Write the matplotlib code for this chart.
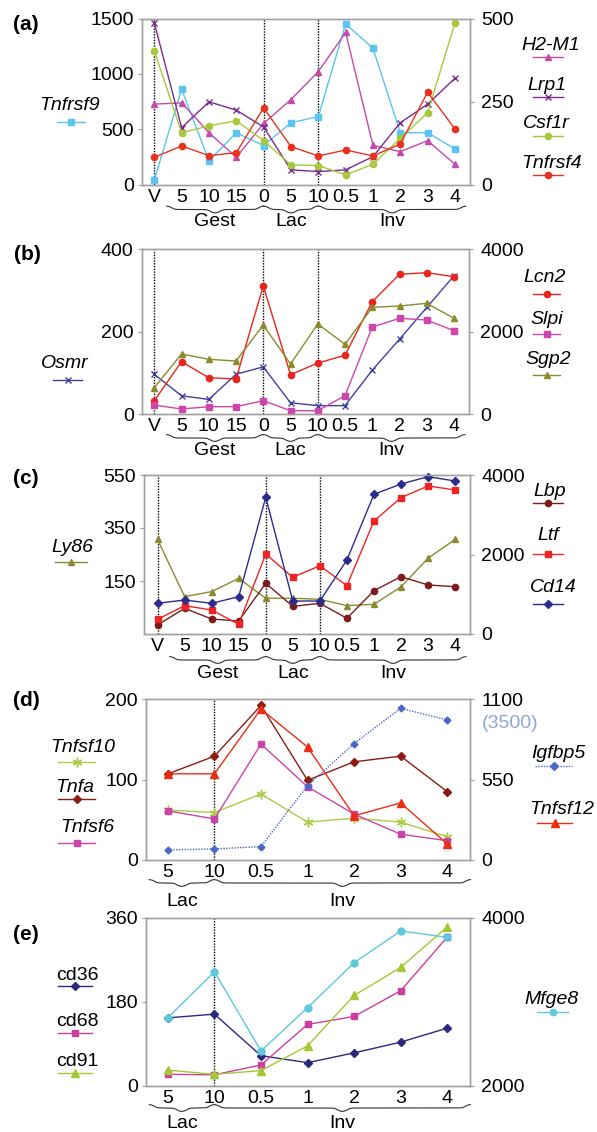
import numpy as np
import matplotlib
matplotlib.use("Agg")
import matplotlib.pyplot as plt
from matplotlib.lines import Line2D
from matplotlib import transforms

plt.rcParams["font.family"] = ["Liberation Sans", "DejaVu Sans"]

W, H = 597, 1132

# ── Data ──────────────────────────────────────────────────────────────────
labels_long = ["V", "5", "10", "15", "0", "5", "10", "0.5", "1", "2", "3", "4"]
labels_short = ["5", "10", "0.5", "1", "2", "3", "4"]

# (a)  left: Tnfrsf9 (0-1500), right: others (0-500)
tnfrsf9 = [41, 860, 215, 468, 352, 559, 613, 1451, 1231, 468, 468, 321]
h2m1 = [242, 246, 156, 82, 184, 256, 340, 458, 118, 99, 132, 61]
lrp1 = [487, 171, 249, 224, 173, 44, 39, 44, 84, 186, 242, 320]
csf1r = [403, 156, 177, 192, 132, 59, 57, 29, 61, 139, 216, 487]
tnfrsf4 = [82, 116, 87, 96, 231, 114, 86, 104, 86, 122, 278, 167]

# (b)  left: Osmr (0-400), right: others (0-4000)
osmr = [97, 45, 36, 97, 115, 28, 21, 21, 107, 182, 259, 336]
lcn2 = [330, 1275, 887, 856, 3110, 960, 1243, 1430, 2730, 3394, 3433, 3336]
slpi = [225, 128, 185, 185, 330, 87, 87, 450, 2116, 2327, 2286, 2027]
sgp2 = [645, 1462, 1333, 1292, 2165, 1219, 2189, 1697, 2594, 2625, 2691, 2327]

# (c)  left: Ly86 (-50-550), right: others (0-4000)
ly86 = [307, 91, 110, 160, 85, 85, 81, 57, 62, 128, 236, 307]
lbp = [226, 646, 377, 327, 1276, 695, 772, 395, 1089, 1442, 1233, 1190]
ltf = [370, 712, 604, 244, 2013, 1426, 1718, 1215, 2843, 3430, 3724, 3623]
cd14 = [772, 855, 772, 939, 3439, 830, 830, 1862, 3515, 3774, 3958, 3849]

# (d)  left: Tnfsf10, Tnfa, Tnfsf6 (0-200); right: Tnfsf12 (0-1100), Igfbp5 (0-3500)
tnfsf10 = [62, 59, 82, 47, 52, 47, 29]
tnfa = [107, 129, 192, 99, 122, 129, 85]
tnfsf6 = [61, 51, 144, 91, 57, 32, 24]
tnfsf12 = [589, 589, 1031, 772, 302, 390, 110]
igfbp5 = [219, 241, 291, 1619, 2531, 3297, 3048]

# (e)  left: cd36, cd68, cd91 (0-360); right: Mfge8 (2000-4000)
cd36 = [146, 154, 65, 50, 71, 94, 124]
cd68 = [25, 24, 45, 132, 149, 204, 319]
cd91 = [34, 25, 33, 86, 194, 254, 341]
mfge8 = [2813, 3360, 2417, 2932, 3467, 3845, 3770]

SPINE = "#a0a0a0"
FS = 14

fig = plt.figure(figsize=(W / 100, H / 100), dpi=100)


def add_ax(l, t, r, b):
    return fig.add_axes([l / W, 1 - b / H, (r - l) / W, (b - t) / H])


def style_axes(ax, ax2):
    for a in (ax, ax2):
        for sp in a.spines.values():
            sp.set_color(SPINE)
            sp.set_linewidth(1.0)
    ax.tick_params(axis="x", length=0, pad=3, labelsize=FS)
    ax.tick_params(axis="y", length=3, width=0.8, color=SPINE, pad=3, labelsize=FS)
    ax2.tick_params(axis="y", length=3, width=0.8, color=SPINE, pad=5, labelsize=FS)


def series(ax, vals, color, marker, ms=4.5, ls="-"):
    ax.plot(range(len(vals)), vals, color=color, marker=marker, ms=ms, lw=1.0,
            ls=ls, mec=color, mfc=color, mew=1.0, clip_on=False)


def vline(ax, x):
    ax.axvline(x, color="black", ls=(0, (1, 1)), lw=1.0, zorder=0)


def legend_item(xc, y_text, y_line, x0, x1, label, color, marker, ms=4.5,
                ls="-", italic=True):
    fig.text(xc / W, 1 - y_text / H, label, ha="center", va="center",
             fontsize=FS, style="italic" if italic else "normal")
    xm = (x0 + x1) / 2
    fig.add_artist(Line2D([x0 / W, xm / W, x1 / W], [1 - y_line / H] * 3,
                          transform=fig.transFigure, color=color, lw=1.0, ls=ls,
                          marker=marker, ms=ms, mfc=color, mec=color,
                          markevery=[1]))


def brace(ax, x0, x1, ypx, label, label_y, ppu):
    trans = transforms.blended_transform_factory(ax.transData, fig.transFigure)
    xs = np.linspace(x0, x1, 600)
    xm = (x0 + x1) / 2
    s = 1.5 / ppu
    c = 5.0 / ppu
    u = np.minimum(xs - x0, x1 - xs)
    v = np.abs(xs - xm)
    d = 1 / (1 + np.exp(-(u - c) / s)) + 1 / (1 + np.exp(-(c - v) / s))
    y = ypx - 3.5 + 3.5 * d
    ax.plot(xs, 1 - y / H, transform=trans, color="#333333", lw=0.8,
            clip_on=False)
    ax.text(xm, 1 - label_y / H, label, transform=trans, ha="center",
            va="center", fontsize=FS)


def panel_label(x, y, s):
    fig.text(x / W, 1 - y / H, s, ha="center", va="center", fontsize=15,
             fontweight="bold")


# ── Panel (a) ─────────────────────────────────────────────────────────────
XL = (-0.45, 11.55)
ax = add_ax(142, 18.5, 470, 184.5)
ax2 = ax.twinx()
style_axes(ax, ax2)
ax.set_xlim(*XL)
ax.set_ylim(0, 1500)
ax.set_yticks([0, 500, 1000, 1500])
ax2.set_ylim(0, 500)
ax2.set_yticks([0, 250, 500])
ax.set_xticks(range(12), labels_long)
for xv in (0, 4, 6):
    vline(ax, xv)
series(ax, tnfrsf9, "#5bc4ef", "s", 4.5)
series(ax2, h2m1, "#c24aa8", "^", 5)
series(ax2, lrp1, "#7b2c8c", "x", 5)
series(ax2, csf1r, "#a8c83c", "o", 4.5)
series(ax2, tnfrsf4, "#e8321e", "o", 4.5)
ppu = (470 - 142) / (XL[1] - XL[0])
brace(ax, 0.45, 4, 209.5, "Gest", 221, ppu)
brace(ax, 4, 6, 209.5, "Lac", 221, ppu)
brace(ax, 6, 11.4, 209.5, "Inv", 221, ppu)
panel_label(26, 25, "(a)")
legend_item(70, 106, 122, 57, 85, "Tnfrsf9", "#5bc4ef", "s")
legend_item(551, 45, 57, 533, 563, "H2-M1", "#c24aa8", "^", 5)
legend_item(547, 85, 97, 533, 563, "Lrp1", "#7b2c8c", "x", 5)
legend_item(546, 123, 136, 533, 563, "Csf1r", "#a8c83c", "o")
legend_item(552, 163, 175, 533, 563, "Tnfrsf4", "#e8321e", "o")

# ── Panel (b) ─────────────────────────────────────────────────────────────
ax = add_ax(142, 249.3, 469, 414.3)
ax2 = ax.twinx()
style_axes(ax, ax2)
ax.set_xlim(*XL)
ax.set_ylim(0, 400)
ax.set_yticks([0, 200, 400])
ax2.set_ylim(0, 4000)
ax2.set_yticks([0, 2000, 4000])
ax.set_xticks(range(12), labels_long)
for xv in (0, 4, 6):
    vline(ax, xv)
series(ax, osmr, "#40409e", "x", 5)
series(ax2, lcn2, "#e8241c", "o", 4.5)
series(ax2, slpi, "#cc46ac", "s", 4.5)
series(ax2, sgp2, "#8c8a2c", "^", 5)
ppu = (469 - 142) / (XL[1] - XL[0])
brace(ax, 0.45, 4, 438, "Gest", 451, ppu)
brace(ax, 4, 6, 438, "Lac", 451, ppu)
brace(ax, 6, 11.4, 438, "Inv", 451, ppu)
panel_label(27, 255, "(b)")
legend_item(65, 363, 380, 53, 82, "Osmr", "#40409e", "x", 5)
legend_item(545, 278, 294, 533, 560, "Lcn2", "#e8241c", "o")
legend_item(547, 319, 334, 533, 560, "Slpi", "#cc46ac", "s")
legend_item(548, 360, 375, 533, 560, "Sgp2", "#8c8a2c", "^", 5)

# ── Panel (c) ─────────────────────────────────────────────────────────────
ax = add_ax(144, 475, 470, 634)
ax2 = ax.twinx()
style_axes(ax, ax2)
ax.set_xlim(-0.5, 11.55)
ax.set_ylim(-50, 550)
ax.set_yticks([150, 350, 550])
ax2.set_ylim(0, 4000)
ax2.set_yticks([0, 2000, 4000])
ax.set_xticks(range(12), labels_long)
for xv in (0, 4, 6):
    vline(ax, xv)
series(ax, ly86, "#8c8a30", "^", 5)
series(ax2, lbp, "#7c1c1c", "o", 4.5)
series(ax2, ltf, "#ee2424", "s", 5)
series(ax2, cd14, "#2c2c8c", "D", 4)
ppu = (470 - 144) / (11.55 + 0.5)
brace(ax, 0.45, 4, 660, "Gest", 673, ppu)
brace(ax, 4, 6, 660, "Lac", 673, ppu)
brace(ax, 6, 11.4, 660, "Inv", 673, ppu)
panel_label(26, 478, "(c)")
legend_item(72, 547, 562, 55, 87, "Ly86", "#8c8a30", "^", 5)
legend_item(550, 492, 503, 533, 563, "Lbp", "#7c1c1c", "o")
legend_item(548, 535, 554, 533, 563, "Ltf", "#ee2424", "s", 5)
legend_item(553, 588, 604, 533, 563, "Cd14", "#2c2c8c", "D", 4)

# ── Panel (d) ─────────────────────────────────────────────────────────────
XS = (-0.47, 6.49)
ax = add_ax(146, 699, 470, 860)
ax2 = ax.twinx()
ax3 = ax.twinx()
ax3.set_axis_off()
style_axes(ax, ax2)
ax.set_xlim(*XS)
ax.set_ylim(0, 200)
ax.set_yticks([0, 100, 200])
ax2.set_ylim(0, 1100)
ax2.set_yticks([0, 550, 1100])
ax3.set_ylim(0, 3500)
ax.set_xticks(range(7), labels_short)
vline(ax, 1)
series(ax3, igfbp5, "#4a68c8", "D", 3.5, ls=(0, (1, 1)))
series(ax, tnfsf10, "#a8cc44", (6, 2, 0), 7)
series(ax, tnfa, "#8c1c12", "D", 4)
series(ax, tnfsf6, "#cc44aa", "s", 5)
series(ax2, tnfsf12, "#ee2c12", "^", 5.5)
ppu = (470 - 146) / (XS[1] - XS[0])
brace(ax, -0.4, 1, 883, "Lac", 901, ppu)
brace(ax, 1, 6.5, 883, "Inv", 901, ppu)
panel_label(26, 700, "(d)")
fig.text(510 / W, 1 - 724 / H, "(3500)", color="#8fa6da", ha="center",
         va="center", fontsize=FS)
legend_item(83, 748, 762, 58, 95, "Tnfsf10", "#a8cc44", (6, 2, 0), 7)
legend_item(75, 788, 799, 58, 95, "Tnfa", "#8c1c12", "D", 4)
legend_item(87, 828, 843, 58, 95, "Tnfsf6", "#cc44aa", "s", 5)
legend_item(558, 753, 766, 535, 572, "Igfbp5", "#4a68c8", "D", 4, ls=(0, (1, 1)))
legend_item(562, 810, 823, 537, 572, "Tnfsf12", "#ee2c12", "^", 5.5)

# ── Panel (e) ─────────────────────────────────────────────────────────────
ax = add_ax(146, 918, 470, 1086)
ax2 = ax.twinx()
style_axes(ax, ax2)
ax.set_xlim(*XS)
ax.set_ylim(0, 360)
ax.set_yticks([0, 180, 360])
ax2.set_ylim(2000, 4000)
ax2.set_yticks([2000, 4000])
ax.set_xticks(range(7), labels_short)
vline(ax, 1)
series(ax, cd36, "#2a2a7c", "D", 4.5)
series(ax, cd68, "#cc3e9c", "s", 5)
series(ax, cd91, "#a4c834", "^", 6)
series(ax2, mfge8, "#5ec8dc", "o", 5)
ppu = (470 - 146) / (XS[1] - XS[0])
brace(ax, -0.4, 1, 1108, "Lac", 1124, ppu)
brace(ax, 1, 6.5, 1108, "Inv", 1124, ppu)
panel_label(26, 935, "(e)")
legend_item(77, 975, 986, 58, 92, "cd36", "#2a2a7c", "D", 4, italic=False)
legend_item(77, 1022, 1033, 58, 92, "cd68", "#cc3e9c", "s", 4.5, italic=False)
legend_item(77, 1061, 1073, 58, 92, "cd91", "#a4c834", "^", 5.5, italic=False)
legend_item(552, 999, 1012, 537, 568, "Mfge8", "#5ec8dc", "o", 4.5)

fig.savefig("out.png", dpi=100)
